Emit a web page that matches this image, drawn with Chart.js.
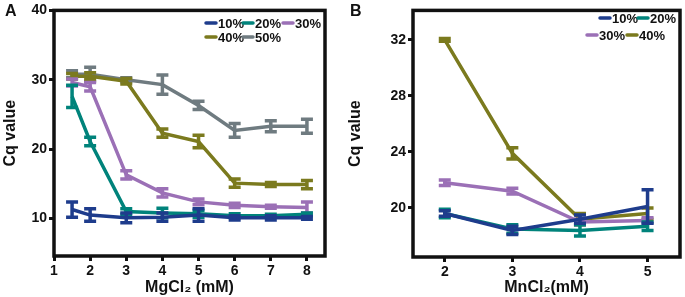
<!DOCTYPE html>
<html>
<head>
<meta charset="utf-8">
<script src="https://cdn.jsdelivr.net/npm/chart.js@4.4.1/dist/chart.umd.min.js"></script>
<style>
  body { margin: 0; background: #fff; width: 685px; height: 297px; position: relative; overflow: hidden; }
  .wrap { position: absolute; top: 0; height: 297px; }
  .tag { position: absolute; top: 2px; font: bold 16px "Liberation Sans", Arial, sans-serif; color: #111; }
</style>
</head>
<body>
<div class="wrap" style="left:0;width:345px"><canvas id="chartA" width="345" height="297"></canvas></div>
<div class="wrap" style="left:345px;width:340px"><canvas id="chartB" width="340" height="297"></canvas></div>
<div class="tag" style="left:5px">A</div>
<div class="tag" style="left:350px">B</div>
<script>
'use strict';

// --- panel A: MgCl2 ---
var mgX = [1.5, 2, 3, 4, 5, 6, 7, 8];
var mgXTicks = [1, 2, 3, 4, 5, 6, 7, 8];
var mgYTicks = [10, 20, 30, 40];
var mgLabels = ['10%', '20%', '30%', '40%', '50%'];
var mg10 = [11.3, 10.5, 10.1, 10.2, 10.5, 10.1, 10.1, 10.1];
var mg10err = [1.1, 0.9, 0.7, 0.6, 0.9, 0.3, 0.3, 0.2];
var mg20 = [27.6, 21.1, 11.0, 10.8, 10.7, 10.4, 10.4, 10.6];
var mg20err = [1.6, 0.6, 0.4, 0.7, 0.5, 0.3, 0.2, 0.2];
var mg30 = [29.6, 29.0, 16.3, 13.7, 12.4, 11.9, 11.7, 11.6];
var mg30err = [0.5, 0.6, 0.6, 0.6, 0.4, 0.3, 0.2, 0.8];
var mg40 = [30.5, 30.5, 29.8, 22.3, 21.1, 15.1, 14.9, 14.9];
var mg40err = [0.4, 0.5, 0.4, 0.6, 0.9, 0.6, 0.3, 0.6];
var mg50 = [30.8, 30.8, 30.0, 29.3, 26.3, 22.7, 23.3, 23.3];
var mg50err = [0.5, 1.0, 0.3, 1.4, 0.6, 1.0, 0.8, 1.0];

// --- panel B: MnCl2 ---
var mnX = [2, 3, 4, 5];
var mnXTicks = [2, 3, 4, 5];
var mnYTicks = [20, 24, 28, 32];
var mnLabels = ['10%', '20%', '30%', '40%'];
var mn10 = [19.6, 18.4, 19.2, 20.1];
var mn10err = [0.2, 0.3, 0.3, 1.2];
var mn20 = [19.6, 18.5, 18.4, 18.7];
var mn20err = [0.3, 0.3, 0.4, 0.3];
var mn30 = [21.8, 21.2, 19.0, 19.1];
var mn30err = [0.2, 0.2, 0.2, 0.2];
var mn40 = [32.0, 23.9, 19.2, 19.6];
var mn40err = [0.1, 0.4, 0.4, 0.4];

var colors = ['#1e3c8c', '#00837b', '#9b70b6', '#7b7a1e', '#6f7b80'];
var FONT = '"Liberation Sans", Arial, sans-serif';

function pts(xs, ys) {
  return xs.map(function (x, i) { return { x: x, y: ys[i] }; });
}

function makeSets(xs, series, errs, labels) {
  return series.map(function (ys, i) {
    return {
      label: labels[i],
      data: pts(xs, ys),
      errors: errs[i],
      borderColor: colors[i],
      backgroundColor: colors[i],
      borderWidth: 3.5,
      pointRadius: 0,
      tension: 0
    };
  });
}

// error bars, drawn right after each line so overlap order matches
var errorBars = {
  id: 'errorBars',
  afterDatasetDraw: function (chart, args) {
    var ds = chart.data.datasets[args.index];
    var ctx = chart.ctx;
    var xs = chart.scales.x, ys = chart.scales.y;
    ctx.save();
    ctx.strokeStyle = ds.borderColor;
    ctx.lineWidth = 3.5;
    ds.data.forEach(function (p, i) {
      var e = ds.errors[i];
      var px = xs.getPixelForValue(p.x);
      var top = ys.getPixelForValue(p.y + e);
      var bot = ys.getPixelForValue(p.y - e);
      ctx.beginPath();
      ctx.moveTo(px, top); ctx.lineTo(px, bot);
      ctx.moveTo(px - 6, top); ctx.lineTo(px + 6, top);
      ctx.moveTo(px - 6, bot); ctx.lineTo(px + 6, bot);
      ctx.stroke();
    });
    ctx.restore();
  }
};

// black frame round the plot area
var frame = {
  id: 'frame',
  afterDraw: function (chart) {
    var a = chart.chartArea, ctx = chart.ctx;
    ctx.save();
    ctx.strokeStyle = '#111';
    ctx.lineWidth = 3.5;
    ctx.strokeRect(a.left, a.top, a.right - a.left, a.bottom - a.top);
    ctx.restore();
  }
};

// legend inside plot, rows of items
var innerLegend = {
  id: 'innerLegend',
  afterDraw: function (chart, args, opts) {
    var ctx = chart.ctx;
    ctx.save();
    ctx.font = 'bold 13px ' + FONT;
    ctx.textBaseline = 'middle';
    opts.items.forEach(function (it) {
      var ds = chart.data.datasets[it.i];
      ctx.strokeStyle = ds.borderColor;
      ctx.lineWidth = 3.5;
      ctx.lineCap = 'round';
      ctx.beginPath();
      ctx.moveTo(it.x, it.y); ctx.lineTo(it.x + 10, it.y);
      ctx.stroke();
      ctx.fillStyle = '#111';
      ctx.fillText(ds.label, it.x + 12, it.y + 1);
    });
    ctx.restore();
  }
};

function axisOpts(min, max, ticks, title, isY, size) {
  return {
    type: 'linear',
    min: min,
    max: max,
    afterBuildTicks: function (ax) {
      ax.ticks = ticks.map(function (v) { return { value: v }; });
    },
    afterFit: function (ax) {
      if (isY) ax.width = size; else ax.height = size;
    },
    border: { display: false },
    grid: { drawOnChartArea: false, drawTicks: true, tickLength: 5, color: '#111', lineWidth: 3 },
    ticks: { color: '#111', font: { family: FONT, weight: 'bold', size: 14 }, padding: 2, maxRotation: 0 },
    title: { display: true, text: title, color: '#111', font: { family: FONT, weight: 'bold', size: 16 }, padding: isY ? 1 : 0 }
  };
}

new Chart(document.getElementById('chartA').getContext('2d'), {
  type: 'line',
  data: { datasets: makeSets(mgX, [mg10, mg20, mg30, mg40, mg50], [mg10err, mg20err, mg30err, mg40err, mg50err], mgLabels) },
  options: {
    responsive: false,
    animation: false,
    layout: { padding: { top: 7, right: 20, left: 0, bottom: 0 } },
    plugins: {
      legend: { display: false },
      tooltip: { enabled: false },
      innerLegend: { items: [
        { i: 0, x: 206, y: 23 }, { i: 1, x: 243, y: 23 }, { i: 2, x: 283, y: 23 },
        { i: 3, x: 206, y: 37 }, { i: 4, x: 243, y: 37 }
      ] }
    },
    scales: {
      x: axisOpts(1, 8.5, mgXTicks, 'MgCl\u2082 (mM)', false, 41),
      y: axisOpts(4.6, 40, mgYTicks, 'Cq value', true, 54)
    }
  },
  plugins: [errorBars, frame, innerLegend]
});

new Chart(document.getElementById('chartB').getContext('2d'), {
  type: 'line',
  data: { datasets: makeSets(mnX, [mn10, mn20, mn30, mn40], [mn10err, mn20err, mn30err, mn40err], mnLabels) },
  options: {
    responsive: false,
    animation: false,
    layout: { padding: { top: 5, right: 5, left: 0, bottom: 0 } },
    plugins: {
      legend: { display: false },
      tooltip: { enabled: false },
      innerLegend: { items: [
        { i: 0, x: 255, y: 18 }, { i: 1, x: 293, y: 18 },
        { i: 2, x: 242, y: 35 }, { i: 3, x: 282, y: 35 }
      ] }
    },
    scales: {
      x: axisOpts(1.53, 5.48, mnXTicks, 'MnCl\u2082(mM)', false, 40),
      y: axisOpts(16.5, 34.1, mnYTicks, 'Cq value', true, 68)
    }
  },
  plugins: [errorBars, frame, innerLegend]
});
</script>
</body>
</html>
